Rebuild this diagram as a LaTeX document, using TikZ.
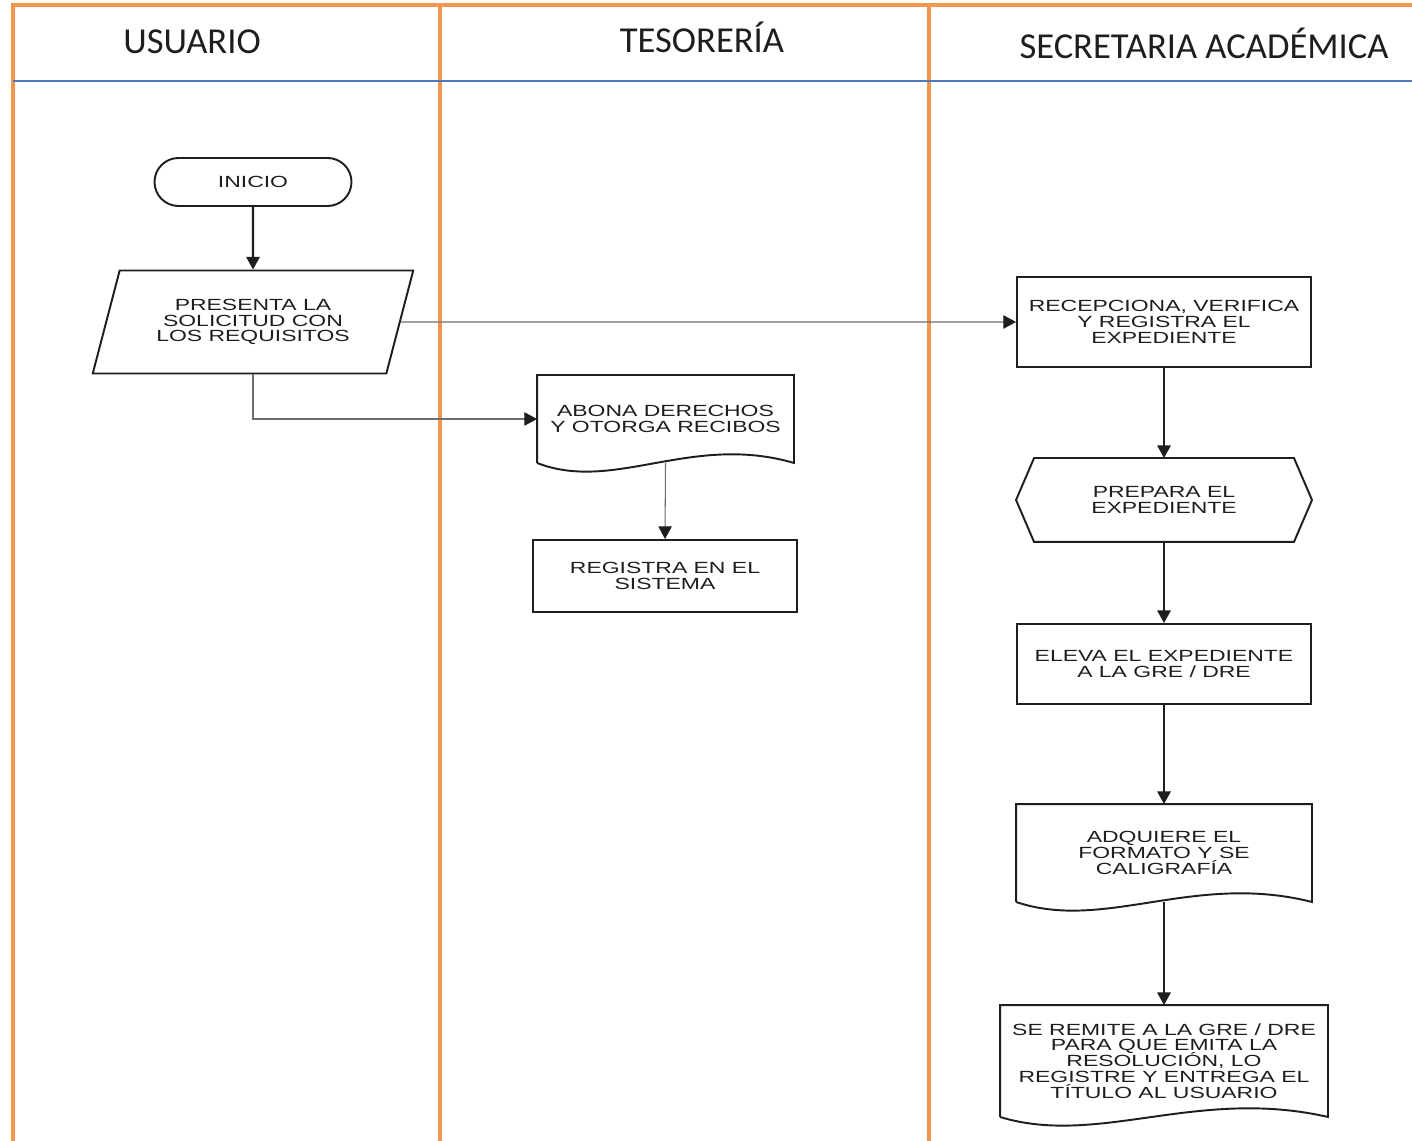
\documentclass[tikz,border=0pt]{standalone}
\usepackage{fontspec}
\newfontfamily\lanefont{Carlito}
\newfontfamily\boxfont[FakeStretch=1.42]{Liberation Sans}
\newcommand\boxsize{\fontsize{4.6}{4.5}\selectfont\lineskiplimit=-5pt\relax}
\definecolor{LaneOrange}{RGB}{242,150,80}
\definecolor{RuleBlue}{RGB}{80,120,190}
\definecolor{LinkGray}{RGB}{110,110,110}
\definecolor{InkBlack}{RGB}{30,30,30}
\usetikzlibrary{shapes.geometric, arrows.meta, positioning, calc}

\begin{document}
\begin{tikzpicture}[
    lane/.style={draw=LaneOrange,line width=1.4pt},
    head/.style={anchor=base,font=\lanefont\fontsize{10.4}{12}\selectfont,text=InkBlack},
    proc/.style={draw=InkBlack,line width=0.55pt,fill=white,align=center,inner sep=0pt,
                 font=\boxfont\boxsize,text=InkBlack},
    doc/.style={proc,draw=none,fill=none},
    arrow/.style={-{Triangle[width=3.8pt,length=3.6pt]},line width=0.6pt,InkBlack},
    link/.style={-{Triangle[width=3.8pt,length=3.6pt,color=InkBlack]},line width=0.3pt,LinkGray}]

    \useasboundingbox (0,0) rectangle (14.12,-11.41);
    \fill[white] (0,0) rectangle (14.12,-11.41);

    % Lanes
    \draw[lane] (0.13,-11.41) -- (0.13,-0.05) -- (14.12,-0.05);
    \foreach \x in {4.40,9.29}
      \draw[lane] (\x,-0.05) -- (\x,-11.41);
    \draw[RuleBlue,line width=0.6pt] (0.13,-0.81) -- (14.12,-0.81);

    \node[head] (hUsr) at (1.92,-0.535) {USUARIO};
    \node[head] (hTes) at (7.02,-0.525) {TESORERÍA};
    \node[head] (hSec) at (12.04,-0.585) {SECRETARIA ACADÉMICA};

    % Usuario
    \node[proc,rounded corners=0.24cm,minimum width=1.97cm,minimum height=0.48cm]
          (inicio) at (2.53,-1.82) {INICIO};
    \node[proc,trapezium,trapezium left angle=67,trapezium right angle=113,
          trapezium stretches=true,minimum width=3.21cm,minimum height=1.03cm]
          (par) at (2.53,-3.22) {PRESENTA LA\\SOLICITUD CON\\LOS REQUISITOS};

    % Tesoreria
    \node[doc,minimum width=2.55cm,minimum height=0.86cm]
          (abona) at (6.655,-4.19) {ABONA DERECHOS\\Y OTORGA RECIBOS};
    \node[proc,minimum width=2.64cm,minimum height=0.72cm]
          (registra) at (6.65,-5.76) {REGISTRA EN EL\\SISTEMA};

    % Secretaria
    \node[proc,minimum width=2.94cm,minimum height=0.90cm]
          (recep) at (11.64,-3.22) {RECEPCIONA, VERIFICA\\Y REGISTRA EL\\EXPEDIENTE};
    \node[doc,minimum width=2.94cm,minimum height=0.82cm]
          (prep) at (11.64,-5.00) {PREPARA EL\\EXPEDIENTE};
    \node[proc,minimum width=2.94cm,minimum height=0.80cm]
          (eleva) at (11.64,-6.64) {ELEVA EL EXPEDIENTE\\A LA GRE / DRE};
    \node[doc,minimum width=2.94cm,minimum height=0.96cm]
          (adq) at (11.64,-8.53) {ADQUIERE EL\\FORMATO Y SE\\CALIGRAFÍA};
    \node[doc,minimum width=3.26cm,minimum height=1.10cm]
          (remite) at (11.64,-10.61)
          {SE REMITE A LA GRE / DRE\\PARA QUE EMITA LA\\RESOLUCIÓN, LO\\REGISTRE Y ENTREGA EL\\TÍTULO AL USUARIO};

    % Outlines
    \draw[InkBlack,line width=0.55pt] (prep.west) -- ([xshift=0.18cm]prep.north west)
      -- ([xshift=-0.18cm]prep.north east) -- (prep.east)
      -- ([xshift=-0.18cm]prep.south east) -- ([xshift=0.18cm]prep.south west) -- cycle;
    \foreach \d in {abona,adq,remite}
      \draw[InkBlack,line width=0.55pt] (\d.south west) -- (\d.north west) -- (\d.north east) -- (\d.south east)
        .. controls ($(\d.south east)!0.4!(\d.south west)+(0,0.3)$)
           and ($(\d.south west)!0.3!(\d.south east)+(0,-0.3)$) .. (\d.south west);

    % Flow
    \draw[arrow] (inicio) -- (par);
    \draw[link] (par.east) -- (recep.west);
    \draw[link] (par.south) |- (abona.west);
    \draw[link] (abona.south) -- (registra.north);
    \draw[arrow] (recep) -- (prep);
    \draw[arrow] (prep) -- (eleva);
    \draw[arrow] (eleva) -- (adq);
    \draw[arrow] (adq.south) -- (remite.north);
  \end{tikzpicture}
\end{document}
